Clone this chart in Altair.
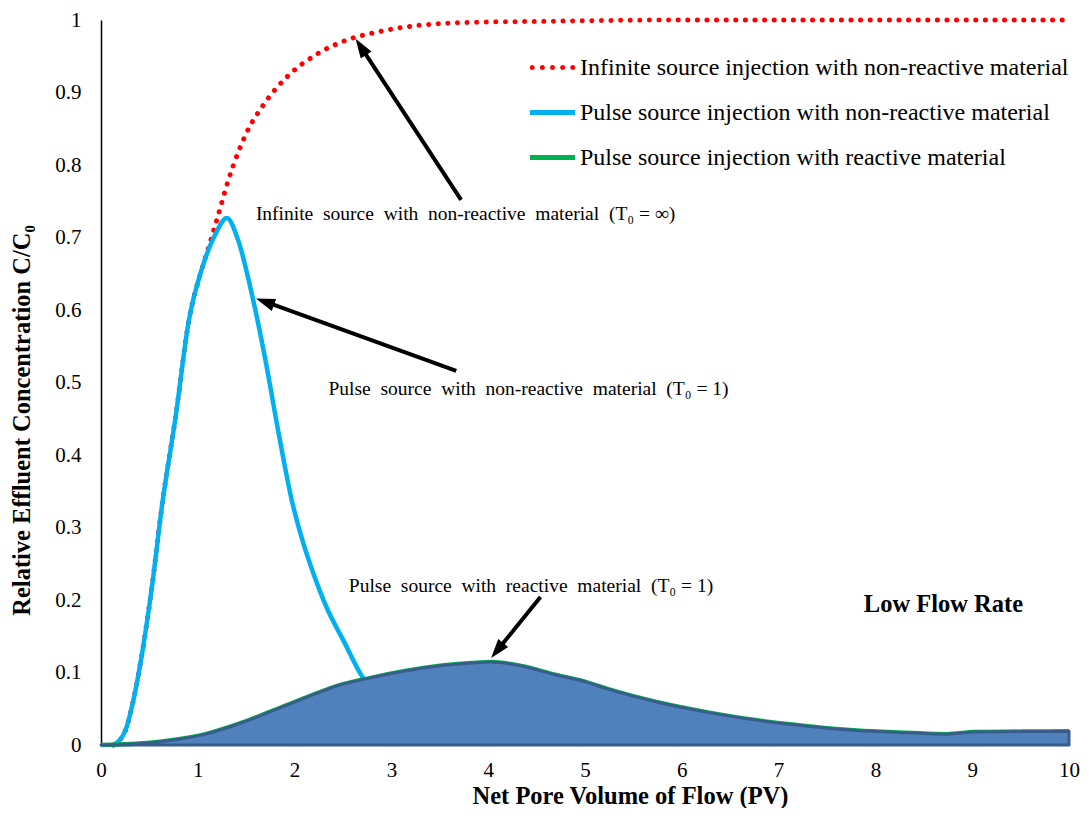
import math
import altair as alt
import pandas as pd

FONT = "Liberation Serif"

# ---- series data ----
S1 = "Infinite source injection with non-reactive material"
S2 = "Pulse source injection with non-reactive material"
S3 = "Pulse source injection with reactive material"
series_names = [S1, S2, S3]
series_colors = ["#FF0000", "#00B0F0", "#00B050"]

inf_x = [0.13, 0.255, 0.32, 0.43, 0.53, 0.63, 0.77, 0.907, 1.045, 1.12, 1.2, 1.32, 1.495,
         1.70, 1.94, 2.22, 2.53, 2.84, 3.31, 3.9, 4.5, 5.0, 6.0, 7.0, 8.0, 9.0, 10.0]
inf_y = [0.0, 0.021, 0.053, 0.131, 0.222, 0.33, 0.452, 0.585, 0.658, 0.69, 0.726, 0.781,
         0.842, 0.887, 0.924, 0.952, 0.972, 0.983, 0.993, 0.997, 0.998, 0.999, 1.0, 1.0,
         1.0, 1.0, 1.0]

pulse_x = [0.13, 0.255, 0.32, 0.43, 0.53, 0.63, 0.77, 0.907, 1.045, 1.18, 1.30, 1.42, 1.56,
           1.70, 1.835, 1.97, 2.075, 2.196, 2.33, 2.505, 2.71, 2.78]
pulse_y = [0.0, 0.021, 0.053, 0.131, 0.222, 0.33, 0.452, 0.585, 0.658, 0.704, 0.727, 0.695,
           0.621, 0.53, 0.43, 0.338, 0.285, 0.236, 0.19, 0.144, 0.092, 0.08]

react_x = [0.0, 0.4, 0.8, 1.08, 1.42, 1.77, 2.11, 2.45, 2.80, 3.14, 3.48, 3.83, 4.03, 4.34,
           4.69, 5.03, 5.24, 5.75, 6.27, 6.78, 7.30, 7.81, 8.33, 8.74, 9.02, 9.53, 10.0]
react_y = [0.0, 0.002, 0.008, 0.015, 0.029, 0.047, 0.065, 0.082, 0.093, 0.102, 0.109, 0.113,
           0.1145, 0.109, 0.097, 0.086, 0.077, 0.059, 0.045, 0.034, 0.026, 0.02, 0.017,
           0.015, 0.018, 0.0185, 0.019]

x_ticks = [0, 1, 2, 3, 4, 5, 6, 7, 8, 9, 10]
y_ticks = [0, 0.1, 0.2, 0.3, 0.4, 0.5, 0.6, 0.7, 0.8, 0.9, 1.0]

# annotations
ann_text = [
    "Infinite\u00a0 source\u00a0 with\u00a0 non-reactive\u00a0 material\u00a0 (T\u2080 = \u221e)",
    "Pulse\u00a0 source\u00a0 with\u00a0 non-reactive\u00a0 material\u00a0 (T\u2080 = 1)",
    "Pulse\u00a0 source\u00a0 with\u00a0 reactive\u00a0 material\u00a0 (T\u2080 = 1)",
]
ann_x = [1.60, 2.35, 2.56]
ann_y = [0.732, 0.491, 0.220]

label_text = ["Low Flow Rate"]
label_x = [7.88]
label_y = [0.193]

arrow_tail_x = [3.72, 3.67, 4.54]
arrow_tail_y = [0.752, 0.516, 0.204]
arrow_tip_x = [2.63, 1.60, 4.03]
arrow_tip_y = [0.974, 0.616, 0.120]

# ---- layout ----
W, H = 968, 725
PX_X, PX_Y = W / 10.0, H / 1.0

df_inf = pd.DataFrame({"x": inf_x, "y": inf_y})
df_pulse = pd.DataFrame({"x": pulse_x, "y": pulse_y})
df_react = pd.DataFrame({"x": react_x, "y": react_y})
df_ann = pd.DataFrame({"x": ann_x, "y": ann_y, "t": ann_text})
df_lab = pd.DataFrame({"x": label_x, "y": label_y, "t": label_text})
df_leg = pd.DataFrame({"series": series_names})

rows = []
for tx, ty, hx, hy in zip(arrow_tail_x, arrow_tail_y, arrow_tip_x, arrow_tip_y):
    dx = (hx - tx) * PX_X
    dy = -(hy - ty) * PX_Y
    L = math.hypot(dx, dy)
    ang = math.degrees(math.atan2(dx, -dy)) % 360
    ex = hx - 12 * dx / L / PX_X
    ey = hy + 12 * dy / L / PX_Y
    rows.append({"x": tx, "y": ty, "x2": ex, "y2": ey, "hx": hx, "hy": hy, "angle": ang})
df_arrow = pd.DataFrame(rows)

x_scale = alt.Scale(domain=[0, 10], nice=False, zero=False)
y_scale = alt.Scale(domain=[0, 1], nice=False, zero=False)

x_axis = alt.Axis(values=x_ticks, format="d", title="Net Pore Volume of Flow (PV)",
                  grid=False, ticks=False, tickSize=0, domain=False, labelFlush=False,
                  labelFont=FONT, labelFontSize=21, labelColor="black", labelPadding=14,
                  titleFont=FONT, titleFontSize=24.5, titleFontWeight="bold",
                  titleColor="black", titleX=529, titleY=51, titleBaseline="middle",
                  titleAlign="center")
y_axis = alt.Axis(values=y_ticks, format="~g", title="Relative Effluent Concentration C/C\u2080",
                  grid=False, ticks=False, tickSize=0, domain=True, domainColor="black",
                  domainWidth=1.5, labelFlush=False,
                  labelFont=FONT, labelFontSize=21, labelColor="black", labelPadding=20,
                  titleFont=FONT, titleFontSize=24.5, titleFontWeight="bold",
                  titleColor="black", titleX=-79, titleY=400, titleAngle=270,
                  titleBaseline="middle", titleAlign="center")

X = alt.X("x:Q", scale=x_scale, axis=x_axis)
Y = alt.Y("y:Q", scale=y_scale, axis=y_axis)

# legend symbols: five dots for the dotted series, a bar for the solid ones
r = 0.11
dots_path = "".join(
    f"M{c - r:.3f},0a{r},{r} 0 1,0 {2 * r:.3f},0a{r},{r} 0 1,0 {-2 * r:.3f},0Z"
    for c in [-0.9, -0.45, 0.0, 0.45, 0.9])
bar_path = "M-1,-0.11H1V0.11H-1Z"

legend = alt.Legend(orient="none", legendX=429, legendY=25, title=None,
                    symbolSize=2025, symbolStrokeWidth=0, symbolOpacity=1,
                    labelFont=FONT, labelFontSize=24, labelColor="black", labelOffset=5,
                    labelLimit=700, rowPadding=10, padding=0)
leg_color = alt.Color("series:N", scale=alt.Scale(domain=series_names, range=series_colors),
                      legend=legend)
leg_shape = alt.Shape("series:N", scale=alt.Scale(domain=series_names,
                                                  range=[dots_path, bar_path, bar_path]),
                      legend=legend)

red = alt.Chart(df_inf).mark_line(color=series_colors[0], strokeWidth=5, strokeCap="round",
                                  strokeDash=[0.1, 9.5],
                                  interpolate="monotone").encode(x=X, y=Y)
blue = alt.Chart(df_pulse).mark_line(color=series_colors[1], strokeWidth=4.5,
                                     strokeCap="round",
                                     interpolate="monotone").encode(x=X, y=Y)
green = alt.Chart(df_react).mark_line(color=series_colors[2], strokeWidth=4.5,
                                      interpolate="monotone").encode(x=X, y=Y)
area = alt.Chart(df_react).mark_area(fill="#4F81BD", stroke="#385D8A", strokeWidth=3,
                                     strokeJoin="round",
                                     interpolate="monotone").encode(x=X, y=Y)

shafts = alt.Chart(df_arrow).mark_rule(color="black", strokeWidth=4).encode(
    x=X, y=Y, x2="x2:Q", y2="y2:Q")
heads = alt.Chart(df_arrow).mark_point(shape="M0,0L-0.8,2.4L0.8,2.4Z", filled=True,
                                       color="black", opacity=1, size=256,
                                       strokeWidth=0).encode(
    x=alt.X("hx:Q", scale=x_scale, axis=x_axis), y=alt.Y("hy:Q", scale=y_scale, axis=y_axis),
    angle=alt.Angle("angle:Q", scale=None))

ann = alt.Chart(df_ann).mark_text(align="left", baseline="middle", font=FONT, fontSize=19.5,
                                  color="black").encode(x=X, y=Y, text="t:N")
lab = alt.Chart(df_lab).mark_text(align="left", baseline="middle", font=FONT, fontSize=24.5,
                                  fontWeight="bold", color="black").encode(x=X, y=Y, text="t:N")

leg = alt.Chart(df_leg).mark_point(filled=True, opacity=1, size=2025).encode(
    x=alt.value(-600), y=alt.value(-600), color=leg_color, shape=leg_shape)

chart = alt.layer(red, blue, green, area, shafts, heads, ann, lab, leg).properties(
    width=W, height=H,
    autosize=alt.AutoSizeParams(type="none"),
    padding={"left": 93, "top": 12, "right": 12, "bottom": 63},
    background="white",
).configure_view(stroke=None)

chart.save("out.html", embed_options={"renderer": "svg", "actions": False})
